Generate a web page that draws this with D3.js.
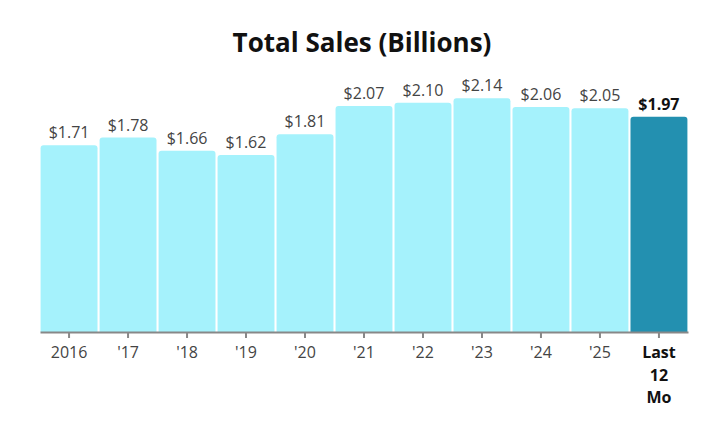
<!DOCTYPE html>
<html>
<head>
<meta charset="utf-8">
<script src="https://cdn.jsdelivr.net/npm/d3@7"></script>
<style>
  body { margin: 0; background: #fff; font-family: "Open Sans", sans-serif; }
</style>
</head>
<body>
<div id="grafico"></div>
<script>
const categorias = ["2016", "'17", "'18", "'19", "'20", "'21", "'22", "'23", "'24", "'25", "Last 12 Mo"];
const vendas = [1.71, 1.78, 1.66, 1.62, 1.81, 2.07, 2.10, 2.14, 2.06, 2.05, 1.97];
const rotulos = ["$1.71", "$1.78", "$1.66", "$1.62", "$1.81", "$2.07", "$2.10", "$2.14", "$2.06", "$2.05", "$1.97"];
const destaque = "Last 12 Mo";

const largura = 722, altura = 438;
const base = 332;

const svg = d3.select("#grafico")
  .append("svg")
  .attr("width", largura)
  .attr("height", altura);

svg.append("text")
  .attr("x", 362)
  .attr("y", 52)
  .attr("text-anchor", "middle")
  .attr("font-size", "26px")
  .attr("font-weight", "bold")
  .attr("fill", "#111")
  .text("Total Sales (Billions)");

const x = d3.scaleBand()
  .domain(categorias)
  .range([40, 688])
  .paddingInner(0.035)
  .paddingOuter(0.01);

const y = d3.scaleLinear()
  .domain([0, 2.14])
  .range([base, 98.3]);

function barraArredondada(x0, y0, w, h, r) {
  return `M${x0},${y0 + h}V${y0 + r}Q${x0},${y0} ${x0 + r},${y0}H${x0 + w - r}Q${x0 + w},${y0} ${x0 + w},${y0 + r}V${y0 + h}Z`;
}

svg.selectAll("path.barra")
  .data(vendas)
  .enter()
  .append("path")
  .attr("class", "barra")
  .attr("d", (d, i) => barraArredondada(x(categorias[i]), y(d), x.bandwidth(), base - y(d), 3))
  .attr("fill", (d, i) => categorias[i] === destaque ? "#2390b0" : "#a5f2fc");

svg.selectAll("text.valor")
  .data(vendas)
  .enter()
  .append("text")
  .attr("class", "valor")
  .attr("x", (d, i) => x(categorias[i]) + x.bandwidth() / 2)
  .attr("y", d => y(d) - 7)
  .attr("text-anchor", "middle")
  .attr("font-size", "16px")
  .attr("font-weight", (d, i) => categorias[i] === destaque ? "bold" : "normal")
  .attr("fill", (d, i) => categorias[i] === destaque ? "#111" : "#444")
  .text((d, i) => rotulos[i]);

const eixo = svg.append("g")
  .attr("transform", `translate(0,${base})`)
  .call(d3.axisBottom(x).tickSize(6).tickSizeOuter(0).tickFormat(() => ""));

eixo.select(".domain").attr("stroke", "#888").attr("stroke-width", 2);
eixo.selectAll(".tick line").attr("stroke", "#888").attr("stroke-width", 2);

eixo.selectAll(".tick").each(function (d) {
  const linhas = d === destaque ? ["Last", "12", "Mo"] : [d];
  const t = d3.select(this).select("text")
    .attr("y", 0)
    .attr("dy", null)
    .attr("font-family", "Open Sans, sans-serif")
    .attr("font-size", "16px")
    .attr("font-weight", d === destaque ? "bold" : "normal")
    .attr("fill", d === destaque ? "#111" : "#444");
  linhas.forEach((l, i) => {
    t.append("tspan").attr("x", 0).attr("y", 26 + i * 22.5).text(l);
  });
});
</script>
</body>
</html>
